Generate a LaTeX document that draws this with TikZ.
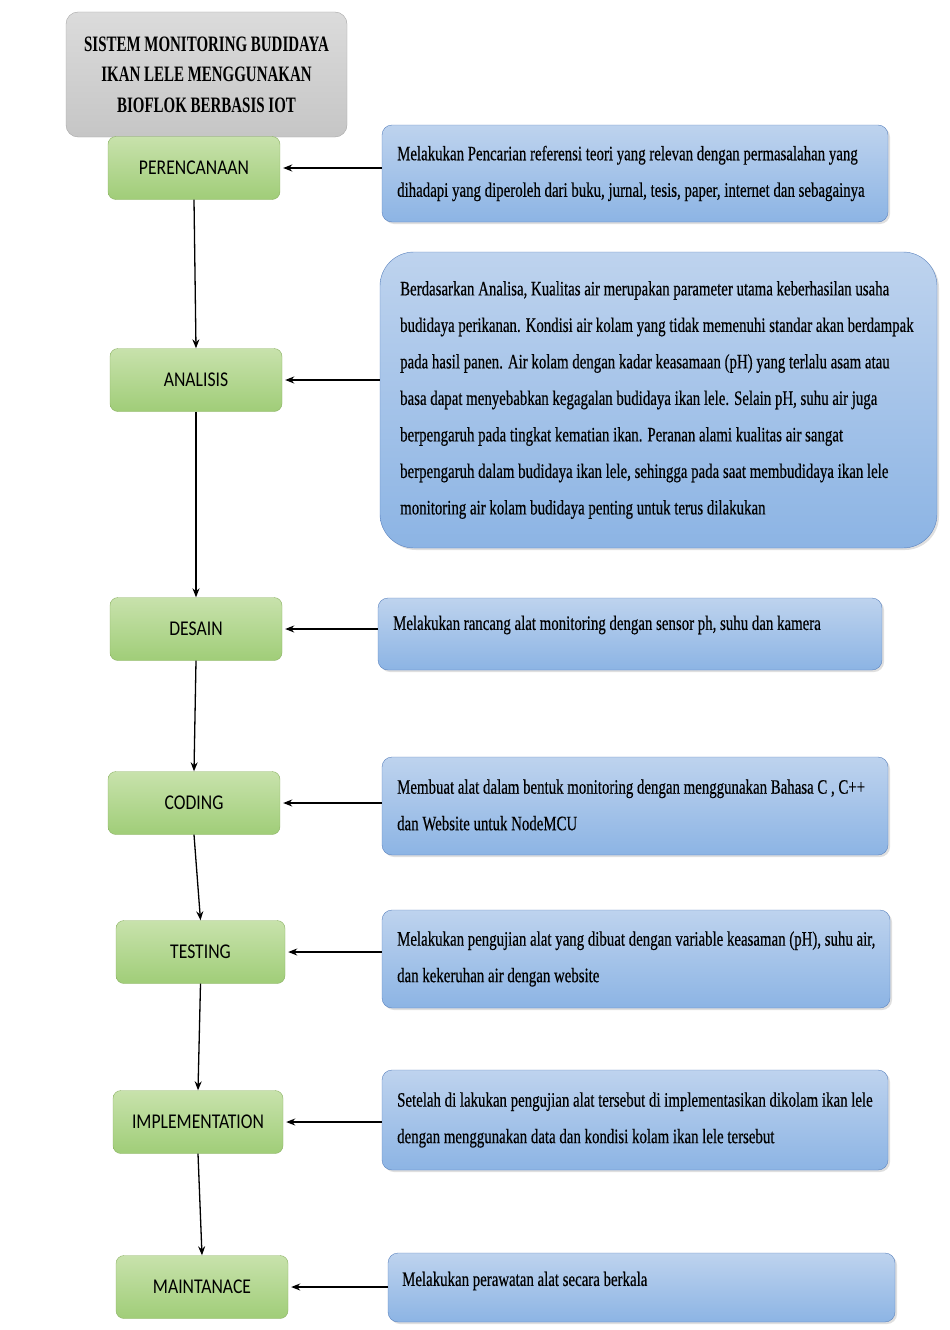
\documentclass[tikz,border=0pt]{standalone}
\usepackage{fontspec}
\setmainfont{Liberation Serif}
\newfontfamily\boxfont[FakeStretch=0.725,FakeBold=0.4]{Liberation Serif}
\newfontfamily\titlefont[FakeStretch=0.68]{Liberation Serif}
\newfontfamily\stepfont[FakeStretch=0.84]{Carlito}
\usetikzlibrary{arrows.meta,shadows}
\tikzset{
  titlebox/.style={draw=gray!70, rounded corners=12pt, top color=gray!28, bottom color=gray!45,
    align=center, font={\titlefont\bfseries\fontsize{22}{30.5}\selectfont}, inner sep=0pt},
  stagebox/.style={draw={rgb,255:red,140;green,178;blue,100}, rounded corners=8pt,
    top color={rgb,255:red,200;green,226;blue,172}, bottom color={rgb,255:red,160;green,205;blue,120},
    font={\stepfont\fontsize{21}{24}\selectfont}, minimum width=172pt, minimum height=63pt, inner sep=0pt},
  notebox/.style={draw={rgb,255:red,90;green,130;blue,190}, rounded corners=10pt,
    top color={rgb,255:red,190;green,211;blue,238}, bottom color={rgb,255:red,140;green,180;blue,228},
    drop shadow={shadow xshift=2pt, shadow yshift=-2pt, opacity=0.25}, inner sep=0pt},
  notetext/.style={anchor=west, align=left, inner sep=0pt,
    font={\boxfont\fontsize{20.5}{36.5}\selectfont}},
  flow/.style={-{Stealth[length=9pt,width=7pt]}, line width=1.3pt, black}
}
\begin{document}
\begin{tikzpicture}[x=1pt,y=-1pt]
\useasboundingbox (0,0) rectangle (950,1330);

% title
\node[titlebox, minimum width=281pt, minimum height=125pt] (title) at (206.5,74.5)
  {SISTEM MONITORING BUDIDAYA\\IKAN LELE MENGGUNAKAN\\BIOFLOK BERBASIS IOT};

% stages
\node[stagebox] (g1) at (194,168) {PERENCANAAN};
\node[stagebox] (g2) at (196,380) {ANALISIS};
\node[stagebox] (g3) at (196,629) {DESAIN};
\node[stagebox] (g4) at (194,803) {CODING};
\node[stagebox, minimum width=169pt] (g5) at (200.5,952) {TESTING};
\node[stagebox, minimum width=170pt] (g6) at (198,1122) {IMPLEMENTATION};
\node[stagebox] (g7) at (202,1287) {MAINTANACE};

% note boxes
\node[notebox, minimum width=506pt, minimum height=97pt] (b1) at (635,173.5) {};
\node[notebox, rounded corners=34pt, minimum width=557pt, minimum height=296pt] (b2) at (658.5,400) {};
\node[notebox, minimum width=504pt, minimum height=72pt] (b3) at (630,634) {};
\node[notebox, minimum width=506pt, minimum height=98pt] (b4) at (635,806) {};
\node[notebox, minimum width=508pt, minimum height=98pt] (b5) at (636,959) {};
\node[notebox, minimum width=506pt, minimum height=100pt] (b6) at (635,1120) {};
\node[notebox, minimum width=507pt, minimum height=69pt] (b7) at (641.5,1287.5) {};

% note texts
\node[notetext] (t1) at (397,173.5)
  {Melakukan Pencarian referensi teori yang relevan dengan permasalahan yang\\
   dihadapi yang diperoleh dari buku, jurnal, tesis, paper, internet dan sebagainya};
\node[notetext] (t2) at (400,400)
  {Berdasarkan Analisa, Kualitas air merupakan parameter utama keberhasilan usaha\\
   budidaya perikanan. Kondisi air kolam yang tidak memenuhi standar akan berdampak\\
   pada hasil panen. Air kolam dengan kadar keasamaan (pH) yang terlalu asam atau\\
   basa dapat menyebabkan kegagalan budidaya ikan lele. Selain pH, suhu air juga\\
   berpengaruh pada tingkat kematian ikan. Peranan alami kualitas air sangat\\
   berpengaruh dalam budidaya ikan lele, sehingga pada saat membudidaya ikan lele\\
   monitoring air kolam budidaya penting untuk terus dilakukan};
\node[notetext] (t3) at (393,625)
  {Melakukan rancang alat monitoring dengan sensor ph, suhu dan kamera};
\node[notetext] (t4) at (397,805)
  {Membuat alat dalam bentuk monitoring dengan menggunakan Bahasa C , C++\\
   dan Website untuk NodeMCU};
\node[notetext] (t5) at (397,959)
  {Melakukan pengujian alat yang dibuat dengan variable keasaman (pH), suhu air,\\
   dan kekeruhan air dengan website};
\node[notetext] (t6) at (397,1120)
  {Setelah di lakukan pengujian alat tersebut di implementasikan dikolam ikan lele\\
   dengan menggunakan data dan kondisi kolam ikan lele tersebut};
\node[notetext] (t7) at (402,1281)
  {Melakukan perawatan alat secara berkala};

% flow down the stages
\draw[flow] (g1.south) -- (g2.north);
\draw[flow] (g2.south) -- (g3.north);
\draw[flow] (g3.south) -- (g4.north);
\draw[flow] (g4.south) -- (g5.north);
\draw[flow] (g5.south) -- (g6.north);
\draw[flow] (g6.south) -- (g7.north);

% notes feeding each stage
\foreach \i in {1,...,7}
  \draw[flow] (b\i.west |- g\i.east) -- ([xshift=3pt]g\i.east);
\end{tikzpicture}
\end{document}
